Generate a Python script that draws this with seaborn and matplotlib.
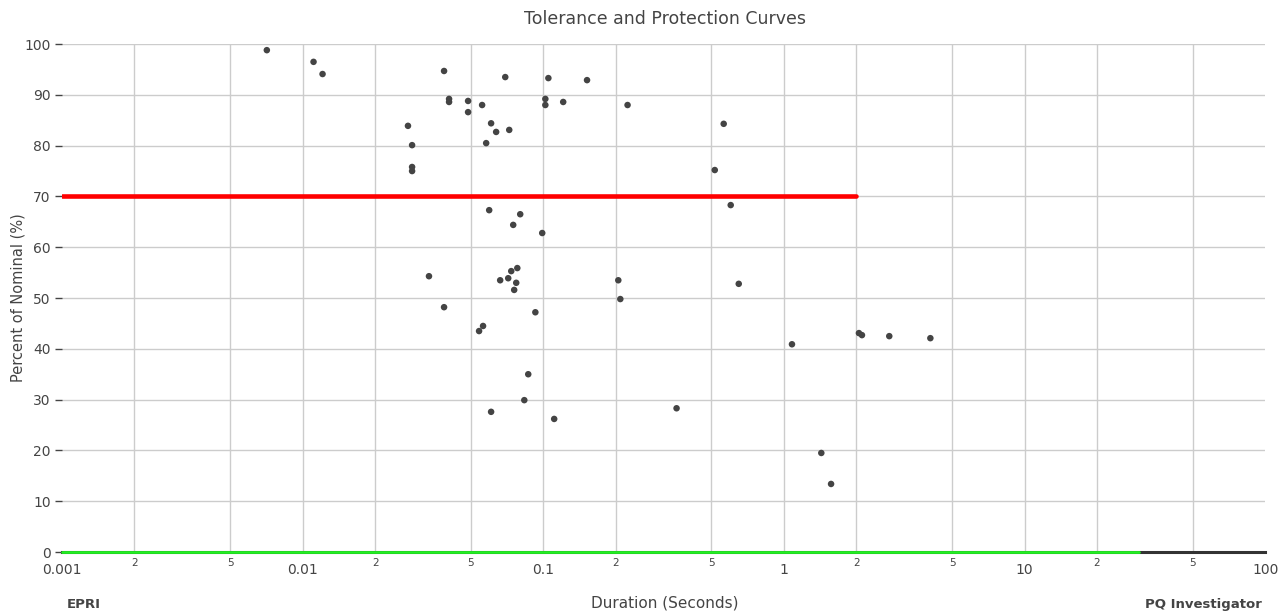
import numpy as np
import pandas as pd
import seaborn as sns
import matplotlib
matplotlib.use("Agg")
from matplotlib import pyplot as plt
from matplotlib.ticker import FixedLocator, FixedFormatter

# event durations (s) and magnitudes (% of nominal)
durations = [
    0.0071, 0.0111, 0.0121, 0.0274, 0.0285, 0.0285, 0.0285, 0.0387, 0.0406, 0.0406,
    0.0487, 0.0487, 0.0557, 0.0607, 0.0637, 0.0579, 0.0695, 0.0722, 0.102, 0.102,
    0.105, 0.121, 0.152, 0.224, 0.562, 0.516, 0.601, 0.0596, 0.0802, 0.075,
    0.099, 0.0335, 0.0387, 0.0662, 0.0715, 0.0736, 0.078, 0.0772, 0.0757, 0.0541,
    0.0562, 0.0927, 0.0866, 0.0834, 0.0607, 0.111, 0.205, 0.209, 0.358, 0.649,
    1.08, 2.05, 2.11, 2.74, 4.06, 1.43, 1.57,
]
magnitudes = [
    98.8, 96.5, 94.1, 83.9, 80.1, 75.8, 75.0, 94.7, 89.2, 88.6,
    88.8, 86.6, 88.0, 84.4, 82.7, 80.5, 93.5, 83.1, 89.2, 88.0,
    93.3, 88.6, 92.9, 88.0, 84.3, 75.2, 68.3, 67.3, 66.5, 64.4,
    62.8, 54.3, 48.2, 53.5, 53.9, 55.3, 55.9, 53.0, 51.6, 43.5,
    44.5, 47.2, 35.0, 29.9, 27.6, 26.2, 53.5, 49.8, 28.3, 52.8,
    40.9, 43.1, 42.7, 42.5, 42.1, 19.5, 13.4,
]

# curve segments
red_x = [0.001, 2]
red_y = [70, 70]
green_x = [0.001, 30]
green_y = [0, 0]

major_ticks = [0.001, 0.01, 0.1, 1, 10, 100]
major_labels = ["0.001", "0.01", "0.1", "1", "10", "100"]
minor_ticks = [m * d for d in [0.001, 0.01, 0.1, 1, 10] for m in (2, 5)]
minor_labels = ["2", "5"] * 5

TEXT = "#444444"

sns.set_theme(style="whitegrid")
plt.rcParams["font.family"] = ["DejaVu Sans"]

fig = plt.figure(figsize=(12.78, 6.12), dpi=100)
ax = fig.add_axes([0.0485, 0.098, 0.9415, 0.830])

events = pd.DataFrame({"duration": durations, "magnitude": magnitudes})
sns.lineplot(x=red_x, y=red_y, color="#ff0000", linewidth=3.3, ax=ax, zorder=3)
sns.lineplot(x=green_x, y=green_y, color="#22ee22", linewidth=2, ax=ax, zorder=4, clip_on=False)
sns.scatterplot(data=events, x="duration", y="magnitude", color=TEXT, s=22,
                edgecolor="none", ax=ax, zorder=5)

ax.set_xscale("log")
ax.set_xlim(0.001, 100)
ax.set_ylim(0, 100)

ax.xaxis.set_major_locator(FixedLocator(major_ticks))
ax.xaxis.set_major_formatter(FixedFormatter(major_labels))
ax.xaxis.set_minor_locator(FixedLocator(minor_ticks))
ax.xaxis.set_minor_formatter(FixedFormatter(minor_labels))
ax.set_yticks(range(0, 101, 10))

ax.grid(True, which="both", axis="x", color="#cccccc", linewidth=1)
ax.grid(True, which="major", axis="y", color="#cccccc", linewidth=1)
# no vertical grid at the axis ends
xgrid = ax.xaxis.get_gridlines()
xgrid[0].set_visible(False)
xgrid[-1].set_visible(False)

ax.tick_params(axis="x", which="major", labelsize=10, colors=TEXT, length=0, pad=8)
ax.tick_params(axis="x", which="minor", labelsize=7.5, colors=TEXT, length=0, pad=4)
ax.tick_params(axis="y", labelsize=10, colors=TEXT, length=5, width=1, direction="out",
               left=True, pad=3)

for side in ("left", "top", "right"):
    ax.spines[side].set_visible(False)
ax.spines["bottom"].set_color("#333333")
ax.spines["bottom"].set_linewidth(2.2)
ax.spines["bottom"].set_zorder(2)

ax.set_xlabel("")
ax.set_ylabel("Percent of Nominal (%)", fontsize=10.5, color=TEXT)
ax.yaxis.set_label_coords(-0.030, 0.5)

fig.text(0.52, 0.969, "Tolerance and Protection Curves", ha="center", va="center",
         fontsize=12.5, color=TEXT)
fig.text(0.52, 0.014, "Duration (Seconds)", ha="center", va="center", fontsize=11, color=TEXT)
fig.text(0.052, 0.012, "EPRI", ha="left", va="center", fontsize=9.5, fontweight="bold", color=TEXT)
fig.text(0.987, 0.012, "PQ Investigator", ha="right", va="center", fontsize=9.5,
         fontweight="bold", color=TEXT)

fig.savefig("out.png", dpi=100, facecolor="white")
